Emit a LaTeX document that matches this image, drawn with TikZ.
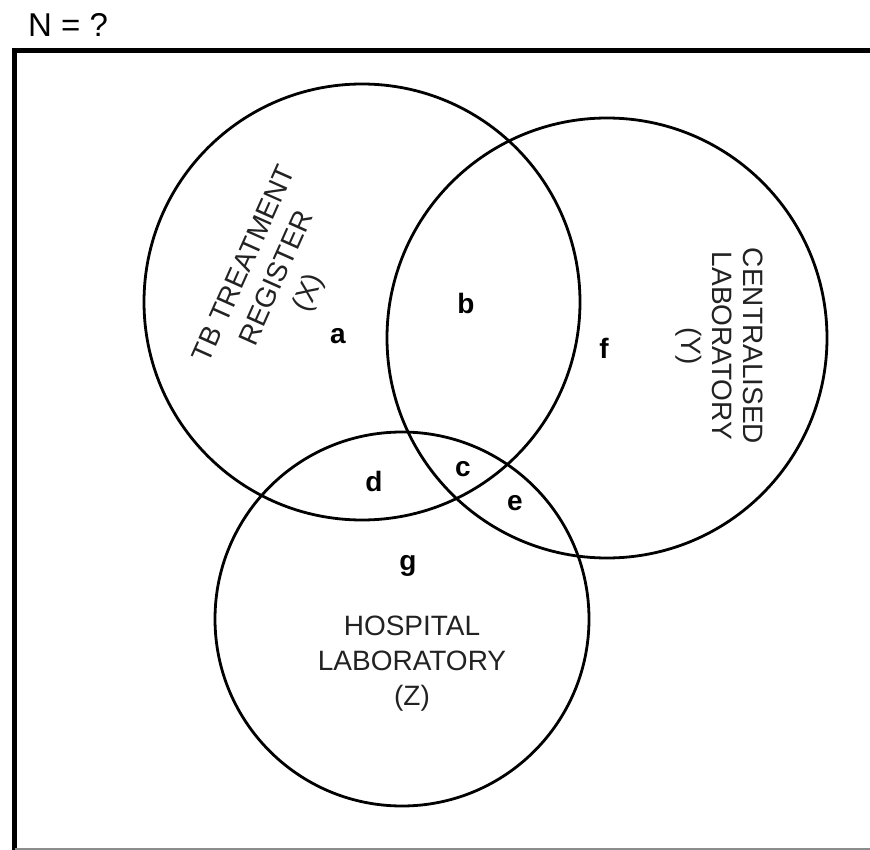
\documentclass[tikz,border=0pt]{standalone}
\usepackage{fontspec}
\setmainfont{Liberation Sans}
\usetikzlibrary{positioning}
\definecolor{framegray}{HTML}{8C8C8C}
\definecolor{inkgray}{HTML}{222222}
\tikzset{
  setcircle/.style={
    circle, draw=black, line width=2.8pt, inner sep=0pt,
    minimum size=#1
  },
  setname/.style={
    align=center, text=inkgray,
    font=\fontsize{28}{33}\selectfont
  },
  region/.style={
    text=black, inner sep=0pt,
    font=\fontsize{28}{33}\selectfont\bfseries
  }
}
\begin{document}
\begin{tikzpicture}[x=1pt, y=-1pt]
  \useasboundingbox (0,0) rectangle (870,850);
  % Rahmen
  \draw[line width=5pt] (14.5,850) -- (14.5,51) -- (870,51);
  \draw[framegray, line width=1.5pt] (14.5,849) -- (870,849);
  \node[anchor=west, inner sep=0pt, font=\fontsize{33}{38}\selectfont]
    (ntotal) at (28,25) {N = ?};
  % Kreise
  \node[setcircle=436pt] (setx) at (362,302) {};
  \node[setcircle=440pt] (sety) at (607,338) {};
  \node[setcircle=374pt] (setz) at (402,619) {};
  % Namen
  \node[setname, rotate=66, font=\fontsize{28}{35}\selectfont]
    (namex) at (278,279) {TB TREATMENT\\REGISTER\\(X)};
  \node[setname, rotate=-90, font=\fontsize{28}{31}\selectfont]
    (namey) at (719,346) {CENTRALISED\\LABORATORY\\(Y)};
  \node[setname, font=\fontsize{28}{35}\selectfont]
    (namez) at (412,664) {HOSPITAL\\LABORATORY\\(Z)};
  % Bereiche
  \node[region] (ra) at (338,336) {a};
  \node[region] (rb) at (466,303) {b};
  \node[region] (rc) at (463,469) {c};
  \node[region] (rd) at (374,481) {d};
  \node[region] (re) at (515,503) {e};
  \node[region] (rf) at (604,348) {f};
  \node[region] (rg) at (408,566) {g};
\end{tikzpicture}
\end{document}
